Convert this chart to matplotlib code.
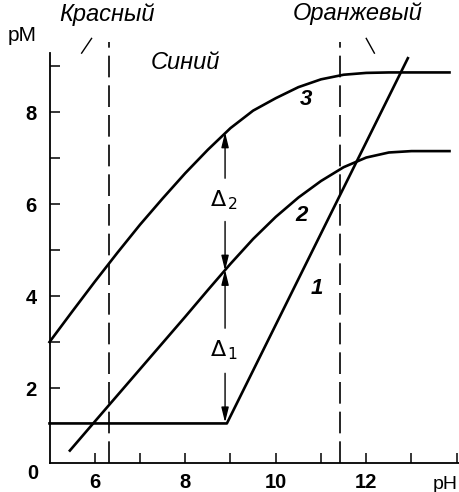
import matplotlib
matplotlib.use('Agg')
import matplotlib.pyplot as plt

# curve 1
ph1 = [5.0, 8.92, 12.92]
pm1 = [1.23, 1.23, 9.17]

# curve 2
ph2 = [5.45, 6.0, 6.5, 7.0, 7.5, 8.0, 8.5, 9.0, 9.5, 10.0, 10.5, 11.0, 11.5, 12.0, 12.5, 13.0, 13.84]
pm2 = [0.64, 1.27, 1.84, 2.41, 2.98, 3.55, 4.13, 4.70, 5.24, 5.72, 6.14, 6.50, 6.80, 7.01, 7.12, 7.15, 7.15]

# curve 3
ph3 = [5.0, 5.5, 6.0, 6.5, 7.0, 7.5, 8.0, 8.5, 9.0, 9.5, 10.0, 10.5, 11.0, 11.5, 12.0, 12.5, 13.84]
pm3 = [3.0, 3.66, 4.31, 4.94, 5.55, 6.12, 6.67, 7.18, 7.65, 8.03, 8.30, 8.54, 8.71, 8.81, 8.85, 8.86, 8.86]

# indicator transition pH (dashed lines)
ph_trans = [6.32, 11.41]

# delta arrows
ph_arrow = 8.88
pm_flat = 1.25
pm_c2 = 4.55
pm_c3 = 7.56

xticks = [6, 7, 8, 9, 10, 11, 12, 13, 14]
xlabels = ['6', '', '8', '', '10', '', '12', '', '']
yticks = [2, 3, 4, 5, 6, 7, 8, 9]
ylabels = ['2', '', '4', '', '6', '', '8', '']

plt.rcParams['font.family'] = ['Liberation Sans', 'DejaVu Sans']

fig = plt.figure(figsize=(4.59, 4.92), dpi=100)
ax = fig.add_axes([49.5 / 459, 1 - 463 / 492, 409.5 / 459, 424.6 / 492])

kw = dict(color='black', lw=1.9, solid_joinstyle='round', clip_on=False)
ax.plot(ph1, pm1, **kw)
ax.plot(ph2, pm2, **kw)
ax.plot(ph3, pm3, **kw)

for x in ph_trans:
    ax.plot([x, x], [0.37, 9.53], color='black', lw=1.2, dashes=(13, 4.8), clip_on=False)

# arrows
ap = dict(arrowstyle='-|>,head_length=0.9,head_width=0.22', color='black', lw=1.0,
          shrinkA=0, shrinkB=0)
ax.annotate('', xy=(ph_arrow, pm_c3), xytext=(ph_arrow, 6.56), arrowprops=ap)
ax.annotate('', xy=(ph_arrow, pm_c2), xytext=(ph_arrow, 5.62), arrowprops=ap)
ax.annotate('', xy=(ph_arrow, pm_c2 + 0.02), xytext=(ph_arrow, 3.3), arrowprops=ap)
ax.annotate('', xy=(ph_arrow, pm_flat), xytext=(ph_arrow, 2.32), arrowprops=ap)

ax.text(ph_arrow - 0.02, 6.09, r'$\Delta_{\,2}$', fontsize=16, ha='center', va='center')
ax.text(ph_arrow - 0.02, 2.83, r'$\Delta_{\,1}$', fontsize=16, ha='center', va='center')

# curve labels
lab = dict(fontsize=16, fontweight='bold', fontstyle='italic', ha='center', va='center')
ax.text(10.68, 8.28, '3', **lab)
ax.text(10.57, 5.74, '2', **lab)
ax.text(10.9, 4.17, '1', **lab)

# indicator colour labels
it = dict(fontsize=17, fontstyle='italic', ha='center', va='center', clip_on=False)
ax.text(8.01, 9.07, 'Синий', **it)
ax.text(6.28, 10.12, 'Красный', **it)
ax.text(11.82, 10.14, 'Оранжевый', **it)
ax.plot([5.71, 5.93], [9.28, 9.6], color='black', lw=1.0, clip_on=False)
ax.plot([12.0, 12.18], [9.6, 9.28], color='black', lw=1.0, clip_on=False)

ax.set_xlim(5, 14.05)
ax.set_ylim(0.37, 9.6)
ax.spines['top'].set_visible(False)
ax.spines['right'].set_visible(False)
ax.spines['left'].set_bounds(0.37, 9.28)
ax.spines['left'].set_linewidth(1.3)
ax.spines['bottom'].set_linewidth(1.3)

ax.set_xticks(xticks)
ax.set_xticklabels(xlabels)
ax.set_yticks(yticks)
ax.set_yticklabels(ylabels)
ax.tick_params(axis='both', direction='in', length=7.5, width=1.1, labelsize=14.5)
ax.tick_params(axis='x', pad=7)
ax.tick_params(axis='y', pad=9)
for t in ax.get_xticklabels() + ax.get_yticklabels():
    t.set_fontweight('bold')

ax.text(-0.04, -0.024, '0', transform=ax.transAxes, fontsize=14.5, fontweight='bold',
        ha='center', va='center')
ax.text(-0.066, 1.007, 'pM', transform=ax.transAxes, fontsize=15, ha='center', va='center')
ax.text(0.966, -0.05, 'pH', transform=ax.transAxes, fontsize=14, ha='center', va='center')

fig.savefig('out.png', dpi=100)
